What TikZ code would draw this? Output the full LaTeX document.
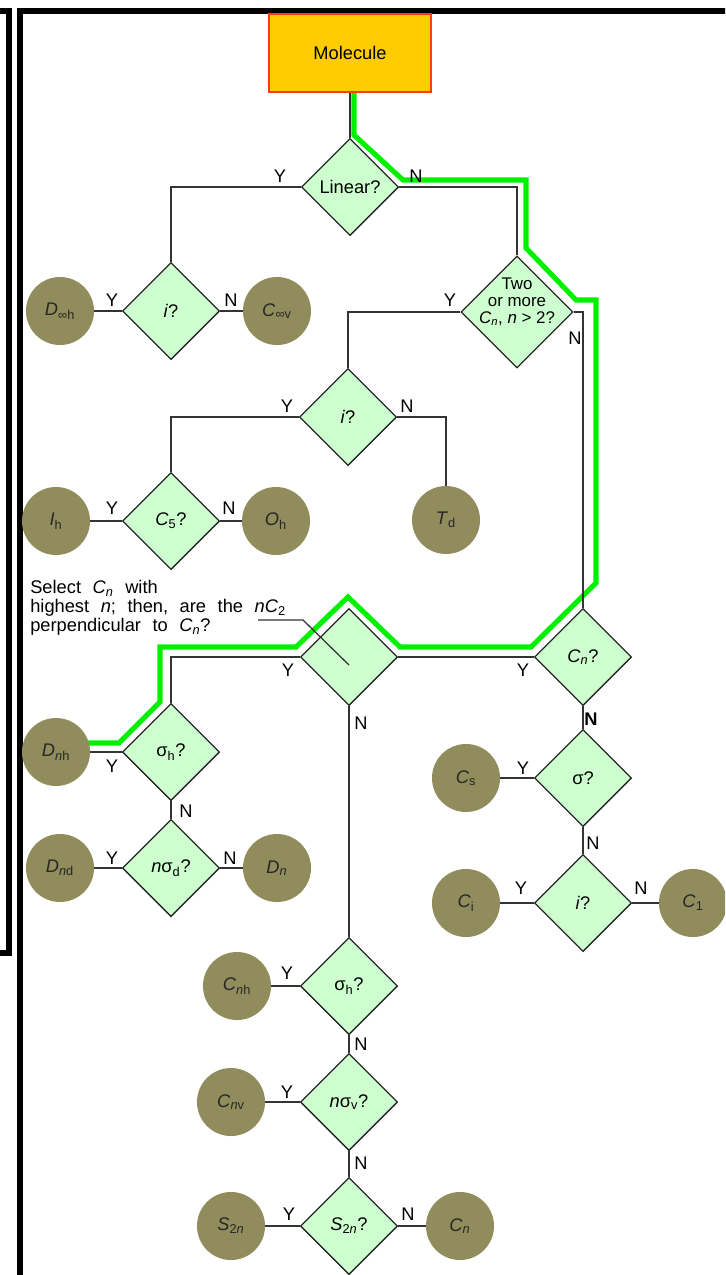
\documentclass[tikz,border=0pt]{standalone}
\usepackage{fontspec}
\setmainfont{Liberation Sans}
\usetikzlibrary{shapes.geometric,calc}

\definecolor{leafolive}{RGB}{145,140,92}
\definecolor{querygreen}{RGB}{206,255,206}
\definecolor{startorange}{RGB}{255,204,0}
\definecolor{startred}{RGB}{255,60,20}
\definecolor{routegreen}{RGB}{0,240,0}
\newcommand{\widewords}{\spaceskip=8.2pt plus 1pt\relax}

\begin{document}
\begin{tikzpicture}[x=0.025cm, y=-0.025cm,
  txt/.style={font=\fontsize{13}{15}\selectfont},
  start/.style={rectangle, draw=startred, fill=startorange, line width=0.8pt, minimum width=4.05cm, minimum height=1.95cm, txt},
  query/.style={diamond, aspect=1, draw=black!85, fill=querygreen, line width=0.9pt, minimum width=2.43cm, minimum height=2.43cm, inner sep=0pt, txt},
  group/.style={circle, fill=leafolive, minimum size=1.7cm, inner sep=0pt, text=black!85, txt},
  yn/.style={inner sep=0pt, txt},
  conn/.style={draw=black!80, line width=0.9pt},
  route/.style={draw=routegreen, line width=3.6pt, line join=miter},
  frame/.style={draw=black, line width=4.3pt},
  ]
 \useasboundingbox (0,0) rectangle (725,1275);
 \clip (0,0) rectangle (725,1275);
 % frames
 \draw[frame] (-20,11) -| (9,953) -- (-20,953);
 \draw[frame] (20,1300) |- (750,11);
 % highlighted route
 \draw[route] (354,92) -- (354,135) -- (403,180) -- (526,180) -- (526,248)
   -- (576,300) -- (596,300) -- (596,583) -- (531,647) -- (400,647)
   -- (348,597) -- (296,647) -- (160,647) -- (160,702) -- (119,743) -- (88,743);

 \node[start] (mol) at (350,53) {Molecule};
 \node[query] (linear) at (350,187) {Linear?};
 % linear branch
 \node[query] (inv1) at (171,311) {\textit{i}?};
 \node[group] (dinfh) at (60,311) {\textit{D}\textsubscript{∞h}};
 \node[group] (cinfv) at (277,311) {\textit{C}\textsubscript{∞v}};
 % high symmetry
 \node[query, minimum width=2.8cm, minimum height=2.8cm] (two) at (517,312) {};
 \node[txt, font=\fontsize{12}{12}\selectfont, align=center, inner sep=0pt] (twotxt) at (517,302)
   {Two\\or more\\\textit{C}\textsubscript{\textit{n}}, \textit{n} > 2?};
 \node[query] (inv2) at (348,417) {\textit{i}?};
 \node[query] (c5) at (171,521) {\textit{C}\textsubscript{5}?};
 \node[group] (ih) at (56,521) {\textit{I}\textsubscript{h}};
 \node[group] (oh) at (276,521) {\textit{O}\textsubscript{h}};
 \node[group] (td) at (446,520) {\textit{T}\textsubscript{d}};
 % Cn branch
 \node[query] (cnq) at (583,657) {\textit{C}\textsubscript{\textit{n}}?};
 \node[query] (nc2) at (349,657) {};
 \node[txt, align=left, anchor=north west, inner sep=0pt, font=\fontsize{13}{13.5}\selectfont\widewords] (note) at (30,580)
   {Select \textit{C}\textsubscript{\textit{n}} with\\
    highest \textit{n}; then, are the \textit{nC}\textsubscript{2}\\
    perpendicular to \textit{C}\textsubscript{\textit{n}}?};
 \coordinate (notetip) at (258,620);
 % D groups
 \node[query] (sh1) at (171,752) {σ\textsubscript{h}?};
 \node[group] (dnh) at (56,752) {\textit{D}\textsubscript{\textit{n}h}};
 \node[query] (nsd) at (171,868) {\textit{n}σ\textsubscript{d}?};
 \node[group] (dnd) at (60,868) {\textit{D}\textsubscript{\textit{n}d}};
 \node[group] (dn) at (277,868) {\textit{D}\textsubscript{\textit{n}}};
 % low symmetry
 \node[query] (sig) at (583,778) {σ?};
 \node[group] (cs) at (466,778) {\textit{C}\textsubscript{s}};
 \node[query] (inv3) at (583,903) {\textit{i}?};
 \node[group] (ci) at (466,903) {\textit{C}\textsubscript{i}};
 \node[group] (cone) at (693,903) {\textit{C}\textsubscript{1}};
 % C groups
 \node[query] (sh2) at (349,986) {σ\textsubscript{h}?};
 \node[group] (cnh) at (237,986) {\textit{C}\textsubscript{\textit{n}h}};
 \node[query] (nsv) at (349,1102) {\textit{n}σ\textsubscript{v}?};
 \node[group] (cnv) at (231,1102) {\textit{C}\textsubscript{\textit{n}v}};
 \node[query] (s2nq) at (349,1226) {\textit{S}\textsubscript{2\textit{n}}?};
 \node[group] (s2n) at (231,1226) {\textit{S}\textsubscript{2\textit{n}}};
 \node[group] (cn) at (460,1226) {\textit{C}\textsubscript{\textit{n}}};

 % connectors
 \draw[conn] (mol) -- (linear);
 \draw[conn] (linear.west) -| (inv1.north);
 \draw[conn] (linear.east) -| (two.north);
 \draw[conn] (inv1.west) -- (dinfh);
 \draw[conn] (inv1.east) -- (cinfv);
 \draw[conn] (two.west) -| (inv2.north);
 \draw[conn] (two.east) -| (cnq.north);
 \draw[conn] (inv2.west) -| (c5.north);
 \draw[conn] (inv2.east) -| (td.north);
 \draw[conn] (c5.west) -- (ih);
 \draw[conn] (c5.east) -- (oh);
 \draw[conn] (cnq.west) -- (nc2.east);
 \draw[conn] (nc2.west) -| (sh1.north);
 \draw[conn] (nc2.south) -- (sh2.north);
 \draw[conn] (notetip) -- ++(45,0) -- ($(nc2.center)+(0,8)$);
 \draw[conn] (sh1.west) -- (dnh);
 \draw[conn] (sh1.south) -- (nsd.north);
 \draw[conn] (nsd.west) -- (dnd);
 \draw[conn] (nsd.east) -- (dn);
 \draw[conn] (cnq.south) -- (sig.north);
 \draw[conn] (sig.west) -- (cs);
 \draw[conn] (sig.south) -- (inv3.north);
 \draw[conn] (inv3.west) -- (ci);
 \draw[conn] (inv3.east) -- (cone);
 \draw[conn] (sh2.west) -- (cnh);
 \draw[conn] (sh2.south) -- (nsv.north);
 \draw[conn] (nsv.west) -- (cnv);
 \draw[conn] (nsv.south) -- (s2nq.north);
 \draw[conn] (s2nq.west) -- (s2n);
 \draw[conn] (s2nq.east) -- (cn);

 % Y / N labels
 \node[yn] (linY) at (280,176) {Y};
 \node[yn] (linN) at (416,176) {N};
 \node[yn] (inv1Y) at (112,300) {Y};
 \node[yn] (inv1N) at (231,300) {N};
 \node[yn] (twoY) at (450,300) {Y};
 \node[yn] (twoN) at (575,338) {N};
 \node[yn] (inv2Y) at (287,406) {Y};
 \node[yn] (inv2N) at (407,406) {N};
 \node[yn] (c5Y) at (112,508) {Y};
 \node[yn] (c5N) at (229,508) {N};
 \node[yn] (nc2Y) at (288,670) {Y};
 \node[yn] (nc2N) at (361,723) {N};
 \node[yn] (cnqY) at (523,670) {Y};
 \node[yn] (cnqN) at (591,719) {\textbf{N}};
 \node[yn] (sh1Y) at (112,766) {Y};
 \node[yn] (sh1N) at (186,811) {N};
 \node[yn] (nsdY) at (112,858) {Y};
 \node[yn] (nsdN) at (230,858) {N};
 \node[yn] (sigY) at (523,768) {Y};
 \node[yn] (sigN) at (593,843) {N};
 \node[yn] (inv3Y) at (521,888) {Y};
 \node[yn] (inv3N) at (641,888) {N};
 \node[yn] (sh2Y) at (287,973) {Y};
 \node[yn] (sh2N) at (361,1044) {N};
 \node[yn] (nsvY) at (287,1092) {Y};
 \node[yn] (nsvN) at (361,1163) {N};
 \node[yn] (s2nY) at (289,1214) {Y};
 \node[yn] (s2nN) at (408,1214) {N};
\end{tikzpicture}
\end{document}
